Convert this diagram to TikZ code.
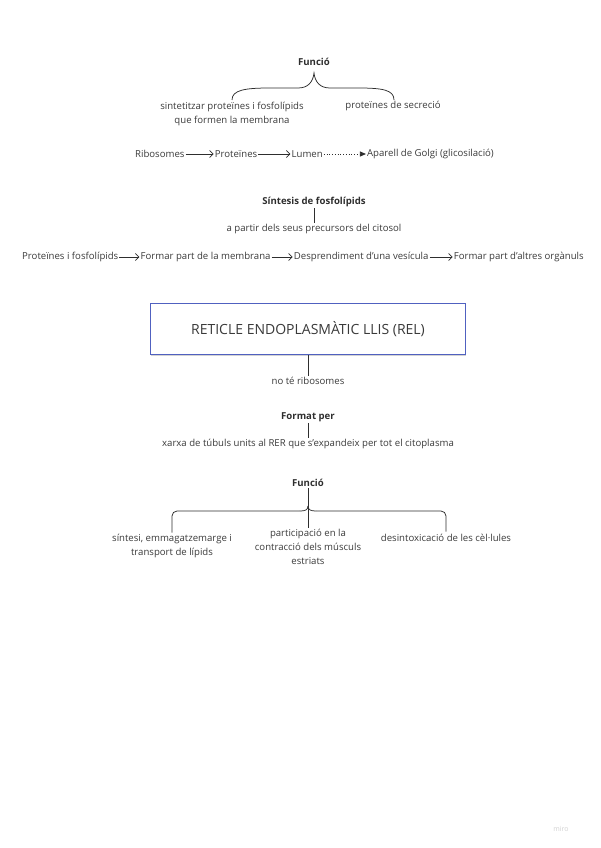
\documentclass[tikz,border=0pt]{standalone}
\usepackage{fontspec}
\setmainfont{Open Sans}
\usetikzlibrary{arrows.meta,positioning,calc,shadows}
\definecolor{txt}{HTML}{3A3A3A}
\definecolor{lnc}{HTML}{2E2E2E}
\definecolor{boxblue}{HTML}{5061C0}
\begin{document}
\begin{tikzpicture}[x=1pt,y=-1pt,
  lbl/.style={inner sep=1pt, text=txt, font=\fontsize{9.6}{14}\selectfont},
  ttl/.style={inner sep=1pt, text=lnc, font=\fontsize{9.6}{14}\selectfont\bfseries},
  conn/.style={draw=lnc, line width=0.75pt},
  arr/.style={conn, -{Straight Barb[length=3.5pt,width=7pt]}},
  darr/.style={conn, dotted, -{Triangle[length=6pt,width=5pt]}},
  mainbox/.style={draw=boxblue, line width=1pt, fill=white, inner sep=0pt,
    minimum width=315pt, minimum height=51pt, text=txt,
    font=\fontsize{14}{16}\selectfont,
    drop shadow={shadow xshift=0pt, shadow yshift=-1.2pt, opacity=0.35}}
]
\useasboundingbox (0,0) rectangle (600,848);

% ---- top: Funcio with brace
\node[ttl] (f1) at (314,62) {Funció};
\coordinate (b1t) at (314,73);
\draw[conn] (232,100) .. controls (232,90) and (245,88) .. (270,88) -- (298,88)
  .. controls (308,88) and (313,82) .. (b1t)
  .. controls (315,82) and (320,88) .. (330,88) -- (358,88)
  .. controls (383,88) and (394,90) .. (394,100);
\node[lbl, align=center, anchor=north] (s1) at (232,100.5) {sintetitzar proteïnes i fosfolípids\\que formen la membrana};
\node[lbl] (s2) at (393,106) {proteïnes de secreció};

% ---- row 1
\node[lbl, anchor=west] (r1) at (134,154) {Ribosomes};
\node[lbl, right=28pt of r1] (r2) {Proteïnes};
\node[lbl, right=32pt of r2] (r3) {Lumen};
\node[lbl, right=42pt of r3] (r4) {Aparell de Golgi (glicosilació)};
\draw[arr] (r1) -- (r2);
\draw[arr] (r2) -- (r3);
\draw[darr] (r3) -- (r4);

% ---- sintesis de fosfolipids
\node[ttl] (t2) at (314,202) {Síntesis de fosfolípids};
\node[lbl] (p2) at (314,229) {a partir dels seus precursors del citosol};
\draw[conn] (t2) -- (p2);

% ---- row 2
\node[lbl, anchor=west] (q1) at (21,257) {Proteïnes i fosfolípids};
\node[lbl, right=20pt of q1] (q2) {Formar part de la membrana};
\node[lbl, right=21pt of q2] (q3) {Desprendiment d'una vesícula};
\node[lbl, right=23pt of q3] (q4) {Formar part d'altres orgànuls};
\draw[arr] (q1) -- (q2);
\draw[arr] (q2) -- (q3);
\draw[arr] (q3) -- (q4);

% ---- main box
\node[mainbox] (rel) at (308,329) {RETICLE ENDOPLASMÀTIC LLIS (REL)};
\node[lbl] (nr) at (308,381) {no té ribosomes};
\draw[conn] (rel.south) -- (nr.north);

\node[ttl] (fp) at (308,417) {Format per};
\node[lbl] (xr) at (308,444) {xarxa de túbuls units al RER que s'expandeix per tot el citoplasma};
\draw[conn] (fp) -- (xr);

% ---- bottom Funcio
\node[ttl] (f2) at (308,483) {Funció};
\node[lbl, align=center, anchor=north] (l2) at (172,532.5) {síntesi, emmagatzemarge i\\transport de lípids};
\node[lbl, align=center, anchor=north] (m2) at (308,527.5) {participació en la\\contracció dels músculs\\estriats};
\node[lbl] (d2) at (446,538) {desintoxicació de les cèl·lules};
\coordinate (b2t) at (308,506);
\draw[conn, rounded corners=5pt] (l2.north) -- (172,511) -- (300,511);
\draw[conn] (300,511) .. controls (305,511) and (308,510) .. (b2t);
\draw[conn, rounded corners=5pt] (d2.north -| 446,0) ++(0,-1.5) -- (446,511) -- (316,511);
\draw[conn] (316,511) .. controls (311,511) and (308,510) .. (b2t);
\draw[conn] (f2.south) -- (m2.north);

% ---- watermark
\node[inner sep=0pt, text=black!18, font=\fontsize{7}{8}\selectfont] (wm) at (561,829) {miro};
\end{tikzpicture}
\end{document}
